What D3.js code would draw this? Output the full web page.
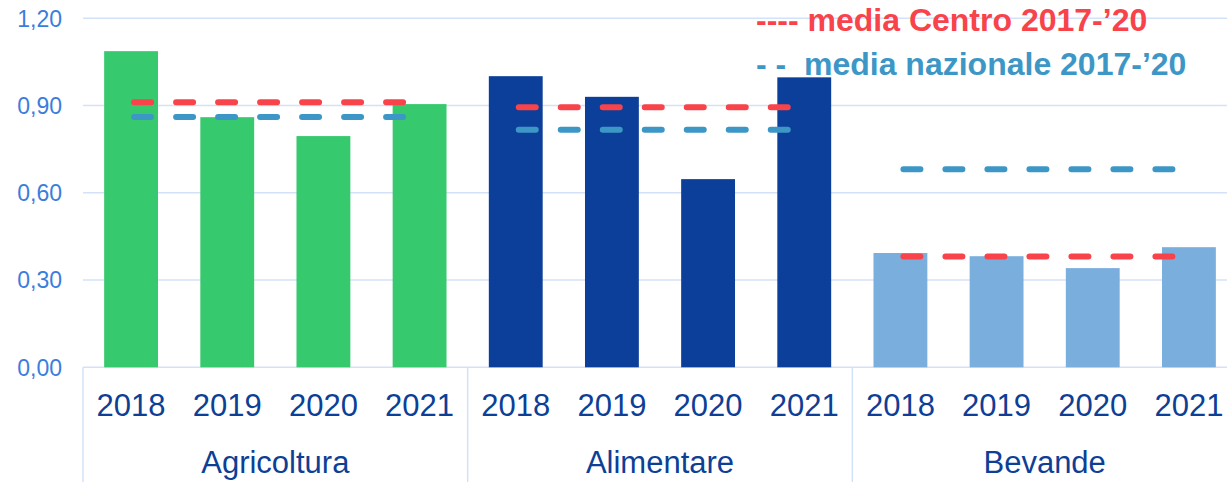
<!DOCTYPE html>
<html>
<head>
<meta charset="utf-8">
<script src="https://cdn.jsdelivr.net/npm/d3@7"></script>
<style>
  html, body { margin: 0; padding: 0; background: #fff; }
  svg { display: block; font-family: "Liberation Sans", Arial, sans-serif; }
</style>
</head>
<body>
<svg id="chart" width="1227" height="482"></svg>
<script>
// Sectors and years on the two-level category axis
const sectors = ["Agricoltura", "Alimentare", "Bevande"];
const years = ["2018", "2019", "2020", "2021"];

// Yearly values per sector
const agricoltura = [1.087, 0.860, 0.795, 0.905];
const alimentare = [1.001, 0.930, 0.647, 0.997];
const bevande = [0.393, 0.382, 0.341, 0.413];

// 2017-'20 averages per sector
const mediaCentro = [0.911, 0.894, 0.381];
const mediaNazionale = [0.861, 0.817, 0.681];

const yTicks = [0, 0.3, 0.6, 0.9, 1.2];
const legendLabels = ["---- media Centro 2017-\u201920", "- -  media nazionale 2017-\u201920"];

const sectorValues = [agricoltura, alimentare, bevande];
const barColors = ["#36c96e", "#0b3f99", "#7aaedd"];
const centroColor = "#f9434a";
const nazColor = "#3d97c6";
const gridColor = "#d3e2f8";

const svg = d3.select("#chart");
const plotLeft = 83, plotRight = 1237, plotTop = 18.3, plotBottom = 367.3;

const rows = [];
sectors.forEach((s, i) => years.forEach((yr, j) => rows.push({ key: s + "|" + yr, sector: s, si: i, year: yr, value: sectorValues[i][j] })));

const x = d3.scaleBand().domain(rows.map(d => d.key)).range([plotLeft, plotRight]).paddingInner(0.44).paddingOuter(0.22);
const xOuter = d3.scaleBand().domain(sectors).range([plotLeft, plotRight]);
const y = d3.scaleLinear().domain([0, 1.2]).range([plotBottom, plotTop]);

// Horizontal gridlines
svg.append("g").selectAll("line").data(yTicks).join("line")
  .attr("x1", plotLeft).attr("x2", 1227)
  .attr("y1", d => y(d)).attr("y2", d => y(d))
  .attr("stroke", gridColor).attr("stroke-width", 1.5);

// Y tick labels
const fmt = v => d3.format(".2f")(v).replace(".", ",");
svg.append("g").selectAll("text").data(yTicks).join("text")
  .attr("x", 62).attr("y", d => y(d)).attr("dy", "0.36em")
  .attr("text-anchor", "end").attr("font-size", 23).attr("fill", "#3b7ddc")
  .text(fmt);

// Bars
svg.append("g").selectAll("rect").data(rows).join("rect")
  .attr("x", d => x(d.key)).attr("width", x.bandwidth())
  .attr("y", d => y(d.value)).attr("height", d => y(0) - y(d.value))
  .attr("fill", d => barColors[d.si]);

// Group separators on the category axis
svg.append("g").selectAll("line").data(sectors.concat(["end"])).join("line")
  .attr("x1", (d, i) => i < sectors.length ? xOuter(d) : plotRight)
  .attr("x2", (d, i) => i < sectors.length ? xOuter(d) : plotRight)
  .attr("y1", plotBottom).attr("y2", 482)
  .attr("stroke", gridColor).attr("stroke-width", 1.5);

// Year labels
svg.append("g").selectAll("text").data(rows).join("text")
  .attr("x", d => x(d.key) + x.bandwidth() / 2).attr("y", 416)
  .attr("text-anchor", "middle").attr("font-size", 31).attr("fill", "#0d3f96")
  .text(d => d.year);

// Sector labels
svg.append("g").selectAll("text").data(sectors).join("text")
  .attr("x", d => xOuter(d) + xOuter.bandwidth() / 2).attr("y", 473)
  .attr("text-anchor", "middle").attr("font-size", 31).attr("fill", "#0d3f96")
  .text(d => d);

// Dashed average lines spanning each sector's first to last year
function avgLines(values, color) {
  svg.append("g").selectAll("line").data(sectors).join("line")
    .attr("x1", (s) => x(s + "|" + years[0]) + x.bandwidth() / 2 + 3)
    .attr("x2", (s) => x(s + "|" + years[years.length - 1]) + x.bandwidth() / 2)
    .attr("y1", (s, i) => y(values[i])).attr("y2", (s, i) => y(values[i]))
    .attr("stroke", color).attr("stroke-width", 6)
    .attr("stroke-linecap", "round").attr("stroke-dasharray", "17 25");
}
avgLines(mediaCentro, centroColor);
avgLines(mediaNazionale, nazColor);

// Legend
svg.append("g").selectAll("text").data(legendLabels).join("text")
  .attr("x", 756).attr("y", (d, i) => 31 + i * 44)
  .attr("font-size", 32).attr("font-weight", "bold")
  .attr("fill", (d, i) => i === 0 ? centroColor : nazColor)
  .style("white-space", "pre")
  .text(d => d);
</script>
</body>
</html>
